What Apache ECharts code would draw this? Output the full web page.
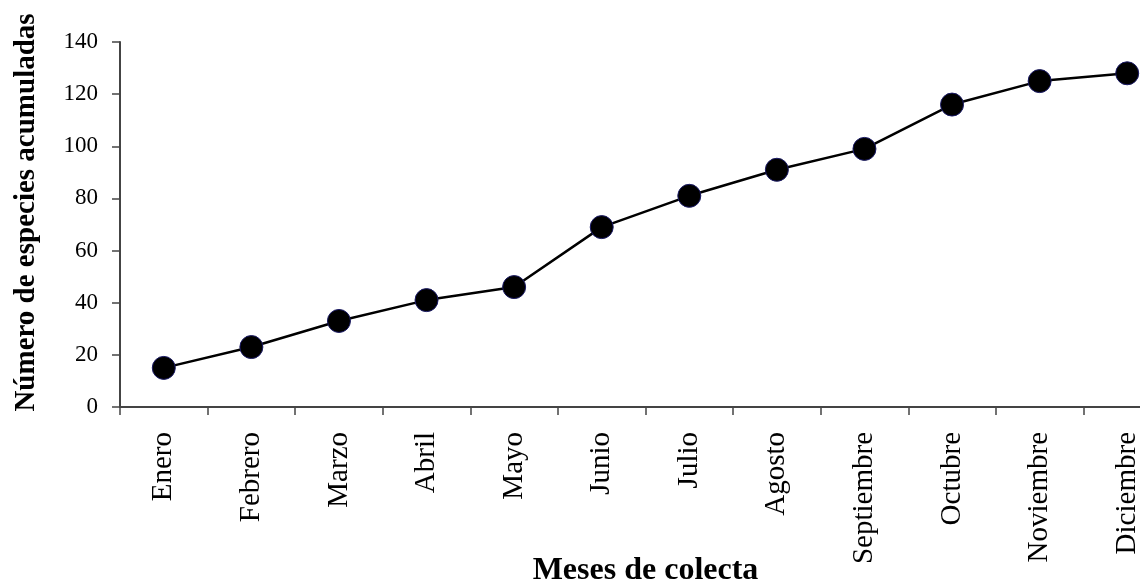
<!DOCTYPE html>
<html>
<head>
<meta charset="utf-8">
<script src="https://cdn.jsdelivr.net/npm/echarts@6/dist/echarts.min.js"></script>
<style>
  html, body { margin: 0; padding: 0; background: #fff; }
  #chart { width: 1140px; height: 583px; }
</style>
</head>
<body>
<div id="chart"></div>
<script>
// meses y especies acumuladas
const meses = ['Enero', 'Febrero', 'Marzo', 'Abril', 'Mayo', 'Junio', 'Julio',
  'Agosto', 'Septiembre', 'Octubre', 'Noviembre', 'Diciembre'];
const especies = [15, 23, 33, 41, 46, 69, 81, 91, 99, 116, 125, 128];
const yTicks = [0, 20, 40, 60, 80, 100, 120, 140];

const font = '"Liberation Serif", "Times New Roman", serif';
const myChart = echarts.init(document.getElementById('chart'));

const option = {
  animation: false,
  backgroundColor: '#fff',
  grid: {
    left: 120,
    width: 1051,  // el eje sigue fuera de la imagen (recortada)
    top: 42,
    bottom: 176,
    containLabel: false,
    outerBoundsMode: 'none'
  },
  xAxis: {
    type: 'category',
    data: meses,
    boundaryGap: true,
    name: 'Meses de colecta',
    nameLocation: 'middle',
    nameGap: 148,
    nameMoveOverlap: false,
    nameTextStyle: {
      fontFamily: font,
      fontWeight: 'bold',
      fontSize: 32,
      color: '#000'
    },
    axisLine: { lineStyle: { color: '#444', width: 2 } },
    axisTick: { show: true, length: 8, alignWithLabel: false, lineStyle: { color: '#444', width: 1.5 } },
    axisLabel: {
      rotate: 90,
      margin: 25,
      fontFamily: font,
      fontSize: 29,
      color: '#000',
      interval: 0
    }
  },
  yAxis: {
    type: 'value',
    min: yTicks[0],
    max: yTicks[yTicks.length - 1],
    interval: 20,
    name: 'Número de especies acumuladas',
    nameLocation: 'middle',
    nameRotate: 90,
    nameGap: 79,
    nameMoveOverlap: false,
    nameTextStyle: {
      fontFamily: font,
      fontWeight: 'bold',
      fontSize: 29,
      color: '#000',
      padding: [0, 0, 0, 24]
    },
    splitLine: { show: false },
    axisLine: { show: true, lineStyle: { color: '#444', width: 2 } },
    axisTick: { show: true, length: 8, lineStyle: { color: '#444', width: 1.5 } },
    axisLabel: {
      margin: 22,
      fontFamily: font,
      fontSize: 23,
      color: '#000'
    }
  },
  series: [
    {
      name: 'Especies',
      type: 'line',
      data: especies,
      symbol: 'circle',
      symbolSize: 23,
      itemStyle: {
        color: '#000',
        borderColor: '#1a1a66',
        borderWidth: 1
      },
      lineStyle: { color: '#000', width: 2.5 }
    }
  ]
};

myChart.setOption(option);
</script>
</body>
</html>
